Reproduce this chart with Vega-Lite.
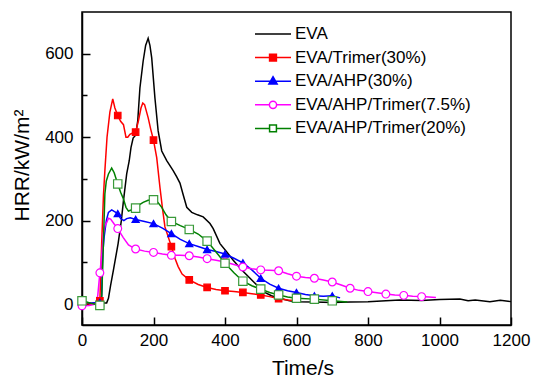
{
  "$schema": "https://vega.github.io/schema/vega-lite/v6.json",
  "width": 429,
  "height": 313,
  "autosize": {"type": "none"},
  "padding": {"left": 82, "top": 12, "right": 23, "bottom": 53},
  "config": {
    "view": {"stroke": "black", "strokeWidth": 1.5},
    "font": "Liberation Sans",
    "axis": {"grid": false, "domainColor": "black", "domainWidth": 1.5, "tickColor": "black", "tickWidth": 1.5, "labelColor": "black", "labelFont": "Liberation Sans", "labelFontSize": 17, "titleFont": "Liberation Sans", "titleFontSize": 21, "titleFontWeight": "normal", "titleColor": "black", "labelFlush": false, "labelOverlap": false, "labelBound": false}
  },
  "datasets": {
    "curves": [
      {"sample":"EVA","time":0,"hrr":3},{"sample":"EVA","time":20,"hrr":1},{"sample":"EVA","time":40,"hrr":2},{"sample":"EVA","time":60,"hrr":3},{"sample":"EVA","time":69,"hrr":3},{"sample":"EVA","time":74,"hrr":14},{"sample":"EVA","time":80,"hrr":45},{"sample":"EVA","time":88,"hrr":82},{"sample":"EVA","time":101,"hrr":145},{"sample":"EVA","time":110,"hrr":200},{"sample":"EVA","time":116,"hrr":248},{"sample":"EVA","time":125,"hrr":312},{"sample":"EVA","time":132,"hrr":343},{"sample":"EVA","time":137,"hrr":375},{"sample":"EVA","time":143,"hrr":398},{"sample":"EVA","time":150,"hrr":405},{"sample":"EVA","time":156,"hrr":440},{"sample":"EVA","time":162,"hrr":518},{"sample":"EVA","time":171,"hrr":582},{"sample":"EVA","time":178,"hrr":620},{"sample":"EVA","time":185,"hrr":637},{"sample":"EVA","time":190,"hrr":620},{"sample":"EVA","time":195,"hrr":590},{"sample":"EVA","time":204,"hrr":494},{"sample":"EVA","time":213,"hrr":415},{"sample":"EVA","time":223,"hrr":367},{"sample":"EVA","time":237,"hrr":344},{"sample":"EVA","time":255,"hrr":320},{"sample":"EVA","time":265,"hrr":305},{"sample":"EVA","time":274,"hrr":290},{"sample":"EVA","time":283,"hrr":262},{"sample":"EVA","time":293,"hrr":232},{"sample":"EVA","time":307,"hrr":220},{"sample":"EVA","time":323,"hrr":214},{"sample":"EVA","time":339,"hrr":209},{"sample":"EVA","time":358,"hrr":193},{"sample":"EVA","time":367,"hrr":181},{"sample":"EVA","time":386,"hrr":145},{"sample":"EVA","time":405,"hrr":125},{"sample":"EVA","time":423,"hrr":105},{"sample":"EVA","time":447,"hrr":82},{"sample":"EVA","time":470,"hrr":62},{"sample":"EVA","time":490,"hrr":45},{"sample":"EVA","time":507,"hrr":30},{"sample":"EVA","time":530,"hrr":20},{"sample":"EVA","time":554,"hrr":14},{"sample":"EVA","time":580,"hrr":8},{"sample":"EVA","time":600,"hrr":6},{"sample":"EVA","time":650,"hrr":5},{"sample":"EVA","time":700,"hrr":4},{"sample":"EVA","time":750,"hrr":5},{"sample":"EVA","time":800,"hrr":6},{"sample":"EVA","time":850,"hrr":8},{"sample":"EVA","time":889,"hrr":10},{"sample":"EVA","time":950,"hrr":9},{"sample":"EVA","time":1000,"hrr":11},{"sample":"EVA","time":1057,"hrr":12},{"sample":"EVA","time":1080,"hrr":8},{"sample":"EVA","time":1100,"hrr":10},{"sample":"EVA","time":1141,"hrr":6},{"sample":"EVA","time":1170,"hrr":9},{"sample":"EVA","time":1200,"hrr":6},
      {"sample":"EVA/Trimer(30%)","time":0,"hrr":2},{"sample":"EVA/Trimer(30%)","time":25,"hrr":0},{"sample":"EVA/Trimer(30%)","time":46,"hrr":5},{"sample":"EVA/Trimer(30%)","time":50,"hrr":8},{"sample":"EVA/Trimer(30%)","time":55,"hrr":145},{"sample":"EVA/Trimer(30%)","time":60,"hrr":260},{"sample":"EVA/Trimer(30%)","time":64,"hrr":320},{"sample":"EVA/Trimer(30%)","time":70,"hrr":400},{"sample":"EVA/Trimer(30%)","time":78,"hrr":460},{"sample":"EVA/Trimer(30%)","time":86,"hrr":492},{"sample":"EVA/Trimer(30%)","time":92,"hrr":470},{"sample":"EVA/Trimer(30%)","time":100,"hrr":452},{"sample":"EVA/Trimer(30%)","time":108,"hrr":438},{"sample":"EVA/Trimer(30%)","time":116,"hrr":430},{"sample":"EVA/Trimer(30%)","time":123,"hrr":400},{"sample":"EVA/Trimer(30%)","time":128,"hrr":400},{"sample":"EVA/Trimer(30%)","time":134,"hrr":407},{"sample":"EVA/Trimer(30%)","time":142,"hrr":410},{"sample":"EVA/Trimer(30%)","time":150,"hrr":412},{"sample":"EVA/Trimer(30%)","time":158,"hrr":440},{"sample":"EVA/Trimer(30%)","time":165,"hrr":470},{"sample":"EVA/Trimer(30%)","time":170,"hrr":482},{"sample":"EVA/Trimer(30%)","time":175,"hrr":478},{"sample":"EVA/Trimer(30%)","time":185,"hrr":447},{"sample":"EVA/Trimer(30%)","time":192,"hrr":420},{"sample":"EVA/Trimer(30%)","time":200,"hrr":393},{"sample":"EVA/Trimer(30%)","time":209,"hrr":351},{"sample":"EVA/Trimer(30%)","time":218,"hrr":280},{"sample":"EVA/Trimer(30%)","time":225,"hrr":230},{"sample":"EVA/Trimer(30%)","time":232,"hrr":185},{"sample":"EVA/Trimer(30%)","time":250,"hrr":138},{"sample":"EVA/Trimer(30%)","time":260,"hrr":110},{"sample":"EVA/Trimer(30%)","time":269,"hrr":90},{"sample":"EVA/Trimer(30%)","time":280,"hrr":72},{"sample":"EVA/Trimer(30%)","time":300,"hrr":58},{"sample":"EVA/Trimer(30%)","time":325,"hrr":47},{"sample":"EVA/Trimer(30%)","time":350,"hrr":40},{"sample":"EVA/Trimer(30%)","time":375,"hrr":35},{"sample":"EVA/Trimer(30%)","time":400,"hrr":32},{"sample":"EVA/Trimer(30%)","time":425,"hrr":30},{"sample":"EVA/Trimer(30%)","time":450,"hrr":28},{"sample":"EVA/Trimer(30%)","time":475,"hrr":25},{"sample":"EVA/Trimer(30%)","time":500,"hrr":22},{"sample":"EVA/Trimer(30%)","time":525,"hrr":18},{"sample":"EVA/Trimer(30%)","time":550,"hrr":13},{"sample":"EVA/Trimer(30%)","time":575,"hrr":10},{"sample":"EVA/Trimer(30%)","time":600,"hrr":8},
      {"sample":"EVA/AHP(30%)","time":0,"hrr":5},{"sample":"EVA/AHP(30%)","time":25,"hrr":3},{"sample":"EVA/AHP(30%)","time":50,"hrr":4},{"sample":"EVA/AHP(30%)","time":55,"hrr":20},{"sample":"EVA/AHP(30%)","time":58,"hrr":120},{"sample":"EVA/AHP(30%)","time":62,"hrr":161},{"sample":"EVA/AHP(30%)","time":68,"hrr":200},{"sample":"EVA/AHP(30%)","time":74,"hrr":220},{"sample":"EVA/AHP(30%)","time":83,"hrr":226},{"sample":"EVA/AHP(30%)","time":90,"hrr":222},{"sample":"EVA/AHP(30%)","time":100,"hrr":217},{"sample":"EVA/AHP(30%)","time":108,"hrr":205},{"sample":"EVA/AHP(30%)","time":117,"hrr":200},{"sample":"EVA/AHP(30%)","time":125,"hrr":205},{"sample":"EVA/AHP(30%)","time":135,"hrr":207},{"sample":"EVA/AHP(30%)","time":150,"hrr":203},{"sample":"EVA/AHP(30%)","time":175,"hrr":198},{"sample":"EVA/AHP(30%)","time":200,"hrr":193},{"sample":"EVA/AHP(30%)","time":225,"hrr":182},{"sample":"EVA/AHP(30%)","time":250,"hrr":169},{"sample":"EVA/AHP(30%)","time":275,"hrr":155},{"sample":"EVA/AHP(30%)","time":300,"hrr":145},{"sample":"EVA/AHP(30%)","time":325,"hrr":138},{"sample":"EVA/AHP(30%)","time":350,"hrr":131},{"sample":"EVA/AHP(30%)","time":375,"hrr":126},{"sample":"EVA/AHP(30%)","time":400,"hrr":120},{"sample":"EVA/AHP(30%)","time":425,"hrr":110},{"sample":"EVA/AHP(30%)","time":450,"hrr":99},{"sample":"EVA/AHP(30%)","time":475,"hrr":82},{"sample":"EVA/AHP(30%)","time":500,"hrr":62},{"sample":"EVA/AHP(30%)","time":525,"hrr":48},{"sample":"EVA/AHP(30%)","time":550,"hrr":38},{"sample":"EVA/AHP(30%)","time":575,"hrr":32},{"sample":"EVA/AHP(30%)","time":600,"hrr":28},{"sample":"EVA/AHP(30%)","time":625,"hrr":23},{"sample":"EVA/AHP(30%)","time":650,"hrr":20},{"sample":"EVA/AHP(30%)","time":675,"hrr":19},{"sample":"EVA/AHP(30%)","time":700,"hrr":20},{"sample":"EVA/AHP(30%)","time":722,"hrr":15},
      {"sample":"EVA/AHP/Trimer(7.5%)","time":0,"hrr":-4},{"sample":"EVA/AHP/Trimer(7.5%)","time":20,"hrr":-3},{"sample":"EVA/AHP/Trimer(7.5%)","time":38,"hrr":0},{"sample":"EVA/AHP/Trimer(7.5%)","time":44,"hrr":20},{"sample":"EVA/AHP/Trimer(7.5%)","time":50,"hrr":75},{"sample":"EVA/AHP/Trimer(7.5%)","time":55,"hrr":115},{"sample":"EVA/AHP/Trimer(7.5%)","time":60,"hrr":170},{"sample":"EVA/AHP/Trimer(7.5%)","time":65,"hrr":190},{"sample":"EVA/AHP/Trimer(7.5%)","time":69,"hrr":195},{"sample":"EVA/AHP/Trimer(7.5%)","time":74,"hrr":206},{"sample":"EVA/AHP/Trimer(7.5%)","time":80,"hrr":204},{"sample":"EVA/AHP/Trimer(7.5%)","time":90,"hrr":192},{"sample":"EVA/AHP/Trimer(7.5%)","time":100,"hrr":181},{"sample":"EVA/AHP/Trimer(7.5%)","time":115,"hrr":160},{"sample":"EVA/AHP/Trimer(7.5%)","time":130,"hrr":142},{"sample":"EVA/AHP/Trimer(7.5%)","time":150,"hrr":132},{"sample":"EVA/AHP/Trimer(7.5%)","time":175,"hrr":127},{"sample":"EVA/AHP/Trimer(7.5%)","time":200,"hrr":124},{"sample":"EVA/AHP/Trimer(7.5%)","time":225,"hrr":120},{"sample":"EVA/AHP/Trimer(7.5%)","time":250,"hrr":117},{"sample":"EVA/AHP/Trimer(7.5%)","time":275,"hrr":117},{"sample":"EVA/AHP/Trimer(7.5%)","time":300,"hrr":116},{"sample":"EVA/AHP/Trimer(7.5%)","time":325,"hrr":113},{"sample":"EVA/AHP/Trimer(7.5%)","time":350,"hrr":109},{"sample":"EVA/AHP/Trimer(7.5%)","time":375,"hrr":105},{"sample":"EVA/AHP/Trimer(7.5%)","time":400,"hrr":101},{"sample":"EVA/AHP/Trimer(7.5%)","time":425,"hrr":95},{"sample":"EVA/AHP/Trimer(7.5%)","time":450,"hrr":89},{"sample":"EVA/AHP/Trimer(7.5%)","time":475,"hrr":85},{"sample":"EVA/AHP/Trimer(7.5%)","time":500,"hrr":82},{"sample":"EVA/AHP/Trimer(7.5%)","time":525,"hrr":81},{"sample":"EVA/AHP/Trimer(7.5%)","time":550,"hrr":80},{"sample":"EVA/AHP/Trimer(7.5%)","time":575,"hrr":73},{"sample":"EVA/AHP/Trimer(7.5%)","time":600,"hrr":67},{"sample":"EVA/AHP/Trimer(7.5%)","time":625,"hrr":64},{"sample":"EVA/AHP/Trimer(7.5%)","time":650,"hrr":62},{"sample":"EVA/AHP/Trimer(7.5%)","time":675,"hrr":58},{"sample":"EVA/AHP/Trimer(7.5%)","time":700,"hrr":53},{"sample":"EVA/AHP/Trimer(7.5%)","time":725,"hrr":46},{"sample":"EVA/AHP/Trimer(7.5%)","time":750,"hrr":38},{"sample":"EVA/AHP/Trimer(7.5%)","time":775,"hrr":33},{"sample":"EVA/AHP/Trimer(7.5%)","time":800,"hrr":30},{"sample":"EVA/AHP/Trimer(7.5%)","time":825,"hrr":27},{"sample":"EVA/AHP/Trimer(7.5%)","time":850,"hrr":24},{"sample":"EVA/AHP/Trimer(7.5%)","time":875,"hrr":22},{"sample":"EVA/AHP/Trimer(7.5%)","time":900,"hrr":21},{"sample":"EVA/AHP/Trimer(7.5%)","time":925,"hrr":19},{"sample":"EVA/AHP/Trimer(7.5%)","time":950,"hrr":18},{"sample":"EVA/AHP/Trimer(7.5%)","time":990,"hrr":16},
      {"sample":"EVA/AHP/Trimer(20%)","time":0,"hrr":8},{"sample":"EVA/AHP/Trimer(20%)","time":25,"hrr":2},{"sample":"EVA/AHP/Trimer(20%)","time":50,"hrr":-3},{"sample":"EVA/AHP/Trimer(20%)","time":55,"hrr":10},{"sample":"EVA/AHP/Trimer(20%)","time":60,"hrr":150},{"sample":"EVA/AHP/Trimer(20%)","time":64,"hrr":264},{"sample":"EVA/AHP/Trimer(20%)","time":68,"hrr":295},{"sample":"EVA/AHP/Trimer(20%)","time":74,"hrr":312},{"sample":"EVA/AHP/Trimer(20%)","time":83,"hrr":326},{"sample":"EVA/AHP/Trimer(20%)","time":90,"hrr":315},{"sample":"EVA/AHP/Trimer(20%)","time":100,"hrr":288},{"sample":"EVA/AHP/Trimer(20%)","time":108,"hrr":268},{"sample":"EVA/AHP/Trimer(20%)","time":116,"hrr":252},{"sample":"EVA/AHP/Trimer(20%)","time":123,"hrr":232},{"sample":"EVA/AHP/Trimer(20%)","time":130,"hrr":223},{"sample":"EVA/AHP/Trimer(20%)","time":140,"hrr":226},{"sample":"EVA/AHP/Trimer(20%)","time":150,"hrr":230},{"sample":"EVA/AHP/Trimer(20%)","time":160,"hrr":238},{"sample":"EVA/AHP/Trimer(20%)","time":171,"hrr":244},{"sample":"EVA/AHP/Trimer(20%)","time":185,"hrr":249},{"sample":"EVA/AHP/Trimer(20%)","time":200,"hrr":250},{"sample":"EVA/AHP/Trimer(20%)","time":212,"hrr":244},{"sample":"EVA/AHP/Trimer(20%)","time":223,"hrr":232},{"sample":"EVA/AHP/Trimer(20%)","time":235,"hrr":214},{"sample":"EVA/AHP/Trimer(20%)","time":250,"hrr":198},{"sample":"EVA/AHP/Trimer(20%)","time":275,"hrr":188},{"sample":"EVA/AHP/Trimer(20%)","time":300,"hrr":179},{"sample":"EVA/AHP/Trimer(20%)","time":325,"hrr":168},{"sample":"EVA/AHP/Trimer(20%)","time":350,"hrr":151},{"sample":"EVA/AHP/Trimer(20%)","time":375,"hrr":125},{"sample":"EVA/AHP/Trimer(20%)","time":400,"hrr":98},{"sample":"EVA/AHP/Trimer(20%)","time":425,"hrr":75},{"sample":"EVA/AHP/Trimer(20%)","time":450,"hrr":55},{"sample":"EVA/AHP/Trimer(20%)","time":475,"hrr":44},{"sample":"EVA/AHP/Trimer(20%)","time":500,"hrr":36},{"sample":"EVA/AHP/Trimer(20%)","time":525,"hrr":28},{"sample":"EVA/AHP/Trimer(20%)","time":550,"hrr":22},{"sample":"EVA/AHP/Trimer(20%)","time":575,"hrr":17},{"sample":"EVA/AHP/Trimer(20%)","time":600,"hrr":14},{"sample":"EVA/AHP/Trimer(20%)","time":650,"hrr":12},{"sample":"EVA/AHP/Trimer(20%)","time":700,"hrr":8},{"sample":"EVA/AHP/Trimer(20%)","time":742,"hrr":5}
    ],
    "markers": [
      {"sample":"EVA/Trimer(30%)","time":0,"hrr":2},{"sample":"EVA/Trimer(30%)","time":50,"hrr":8},{"sample":"EVA/Trimer(30%)","time":100,"hrr":452},{"sample":"EVA/Trimer(30%)","time":150,"hrr":412},{"sample":"EVA/Trimer(30%)","time":200,"hrr":393},{"sample":"EVA/Trimer(30%)","time":250,"hrr":138},{"sample":"EVA/Trimer(30%)","time":300,"hrr":58},{"sample":"EVA/Trimer(30%)","time":350,"hrr":40},{"sample":"EVA/Trimer(30%)","time":400,"hrr":32},{"sample":"EVA/Trimer(30%)","time":450,"hrr":28},{"sample":"EVA/Trimer(30%)","time":500,"hrr":22},{"sample":"EVA/Trimer(30%)","time":550,"hrr":13},
      {"sample":"EVA/AHP(30%)","time":0,"hrr":5},{"sample":"EVA/AHP(30%)","time":50,"hrr":4},{"sample":"EVA/AHP(30%)","time":100,"hrr":217},{"sample":"EVA/AHP(30%)","time":150,"hrr":203},{"sample":"EVA/AHP(30%)","time":200,"hrr":193},{"sample":"EVA/AHP(30%)","time":250,"hrr":169},{"sample":"EVA/AHP(30%)","time":300,"hrr":145},{"sample":"EVA/AHP(30%)","time":350,"hrr":131},{"sample":"EVA/AHP(30%)","time":400,"hrr":120},{"sample":"EVA/AHP(30%)","time":450,"hrr":99},{"sample":"EVA/AHP(30%)","time":500,"hrr":62},{"sample":"EVA/AHP(30%)","time":550,"hrr":38},{"sample":"EVA/AHP(30%)","time":600,"hrr":28},{"sample":"EVA/AHP(30%)","time":650,"hrr":20},{"sample":"EVA/AHP(30%)","time":700,"hrr":20},
      {"sample":"EVA/AHP/Trimer(7.5%)","time":0,"hrr":-4},{"sample":"EVA/AHP/Trimer(7.5%)","time":50,"hrr":75},{"sample":"EVA/AHP/Trimer(7.5%)","time":100,"hrr":181},{"sample":"EVA/AHP/Trimer(7.5%)","time":150,"hrr":132},{"sample":"EVA/AHP/Trimer(7.5%)","time":200,"hrr":124},{"sample":"EVA/AHP/Trimer(7.5%)","time":250,"hrr":117},{"sample":"EVA/AHP/Trimer(7.5%)","time":300,"hrr":116},{"sample":"EVA/AHP/Trimer(7.5%)","time":350,"hrr":109},{"sample":"EVA/AHP/Trimer(7.5%)","time":400,"hrr":101},{"sample":"EVA/AHP/Trimer(7.5%)","time":450,"hrr":89},{"sample":"EVA/AHP/Trimer(7.5%)","time":500,"hrr":82},{"sample":"EVA/AHP/Trimer(7.5%)","time":550,"hrr":80},{"sample":"EVA/AHP/Trimer(7.5%)","time":600,"hrr":67},{"sample":"EVA/AHP/Trimer(7.5%)","time":650,"hrr":62},{"sample":"EVA/AHP/Trimer(7.5%)","time":700,"hrr":53},{"sample":"EVA/AHP/Trimer(7.5%)","time":750,"hrr":38},{"sample":"EVA/AHP/Trimer(7.5%)","time":800,"hrr":30},{"sample":"EVA/AHP/Trimer(7.5%)","time":850,"hrr":24},{"sample":"EVA/AHP/Trimer(7.5%)","time":900,"hrr":21},{"sample":"EVA/AHP/Trimer(7.5%)","time":950,"hrr":18},
      {"sample":"EVA/AHP/Trimer(20%)","time":0,"hrr":8},{"sample":"EVA/AHP/Trimer(20%)","time":50,"hrr":-3},{"sample":"EVA/AHP/Trimer(20%)","time":100,"hrr":288},{"sample":"EVA/AHP/Trimer(20%)","time":150,"hrr":230},{"sample":"EVA/AHP/Trimer(20%)","time":200,"hrr":250},{"sample":"EVA/AHP/Trimer(20%)","time":250,"hrr":198},{"sample":"EVA/AHP/Trimer(20%)","time":300,"hrr":179},{"sample":"EVA/AHP/Trimer(20%)","time":350,"hrr":151},{"sample":"EVA/AHP/Trimer(20%)","time":400,"hrr":98},{"sample":"EVA/AHP/Trimer(20%)","time":450,"hrr":55},{"sample":"EVA/AHP/Trimer(20%)","time":500,"hrr":36},{"sample":"EVA/AHP/Trimer(20%)","time":550,"hrr":22},{"sample":"EVA/AHP/Trimer(20%)","time":600,"hrr":14},{"sample":"EVA/AHP/Trimer(20%)","time":650,"hrr":12},{"sample":"EVA/AHP/Trimer(20%)","time":700,"hrr":8}
    ]
  },
  "layer": [
    {
      "data": {"name": "curves"},
      "mark": {"type": "line", "strokeWidth": 1.5},
      "encoding": {
        "x": {"field": "time", "type": "quantitative", "scale": {"domain": [0, 1200], "nice": false, "zero": false},
          "axis": {"orient": "bottom", "values": [0, 100, 200, 300, 400, 500, 600, 700, 800, 900, 1000, 1100, 1200], "format": "d", "labelExpr": "datum.value % 200 === 0 ? datum.label : ''", "ticks": true, "tickSize": {"condition": {"test": "datum.value % 200 === 0", "value": -8}, "value": -5}, "labelPadding": 15, "labelOverlap": false, "title": "Time/s", "titleX": 220.5, "titleY": 49, "titleBaseline": "alphabetic", "titleAlign": "center"}},
        "y": {"field": "hrr", "type": "quantitative", "scale": {"domain": [-50, 700], "nice": false, "zero": false},
          "axis": {"orient": "left", "values": [0, 100, 200, 300, 400, 500, 600], "format": "d", "labelExpr": "datum.value % 200 === 0 ? datum.label : ''", "ticks": true, "tickSize": {"condition": {"test": "datum.value % 200 === 0", "value": -8}, "value": -5}, "labelPadding": 17, "labelOverlap": false, "title": "HRR/kW/m²", "titleX": -54, "titleY": 153, "titleAngle": -90, "titleBaseline": "alphabetic", "titleAlign": "center"}},
        "color": {"field": "sample", "type": "nominal", "sort": null,
          "scale": {"domain": ["EVA", "EVA/Trimer(30%)", "EVA/AHP(30%)", "EVA/AHP/Trimer(7.5%)", "EVA/AHP/Trimer(20%)"], "range": ["black", "#ff0000", "#0000ff", "#ff00ff", "#008000"]},
          "legend": {"orient": "none", "legendX": 172, "legendY": 14, "title": null, "padding": 0, "symbolSize": 1296, "symbolStrokeWidth": 1.5, "clipHeight": 16, "rowPadding": 6.6, "labelOffset": 3, "labelFontSize": 17, "labelFont": "Liberation Sans", "labelColor": "black", "labelLimit": 400,
            "encode": {"symbols": {"update": {
              "shape": {"signal": "datum.value === 'EVA' ? 'M-1,0H1' : datum.value === 'EVA/Trimer(30%)' ? 'M-1,0H1M-0.19,-0.19H0.19V0.19H-0.19Z' : datum.value === 'EVA/AHP(30%)' ? 'M-1,0H1M0,-0.25L0.23,0.16L-0.23,0.16Z' : datum.value === 'EVA/AHP/Trimer(7.5%)' ? 'M-1,0H-0.2M0.2,0H1M0.2,0A0.2,0.2 0 1,1 -0.2,0A0.2,0.2 0 1,1 0.2,0Z' : 'M-1,0H-0.19M0.19,0H1M-0.19,-0.19H0.19V0.19H-0.19Z'"},
              "fill": {"signal": "datum.value === 'EVA' ? 'transparent' : datum.value === 'EVA/Trimer(30%)' ? '#ff0000' : datum.value === 'EVA/AHP(30%)' ? '#0000ff' : 'white'"}
            }}}}}
      }
    },
    {
      "data": {"name": "markers"},
      "mark": {"type": "point", "opacity": 1, "strokeWidth": 1.2},
      "encoding": {
        "x": {"field": "time", "type": "quantitative"},
        "y": {"field": "hrr", "type": "quantitative"},
        "shape": {"field": "sample", "type": "nominal", "legend": null, "scale": {"domain": ["EVA/Trimer(30%)", "EVA/AHP(30%)", "EVA/AHP/Trimer(7.5%)", "EVA/AHP/Trimer(20%)"], "range": ["square", "triangle-up", "circle", "square"]}},
        "fill": {"field": "sample", "type": "nominal", "legend": null, "scale": {"domain": ["EVA/Trimer(30%)", "EVA/AHP(30%)", "EVA/AHP/Trimer(7.5%)", "EVA/AHP/Trimer(20%)"], "range": ["#ff0000", "#0000ff", "white", "white"]}},
        "stroke": {"field": "sample", "type": "nominal", "legend": null, "scale": {"domain": ["EVA/Trimer(30%)", "EVA/AHP(30%)", "EVA/AHP/Trimer(7.5%)", "EVA/AHP/Trimer(20%)"], "range": ["#ff0000", "#0000ff", "#ff00ff", "#3a9a3a"]}},
        "size": {"field": "sample", "type": "nominal", "legend": null, "scale": {"domain": ["EVA/Trimer(30%)", "EVA/AHP(30%)", "EVA/AHP/Trimer(7.5%)", "EVA/AHP/Trimer(20%)"], "range": [42, 70, 55, 42]}}
      }
    }
  ]
}
